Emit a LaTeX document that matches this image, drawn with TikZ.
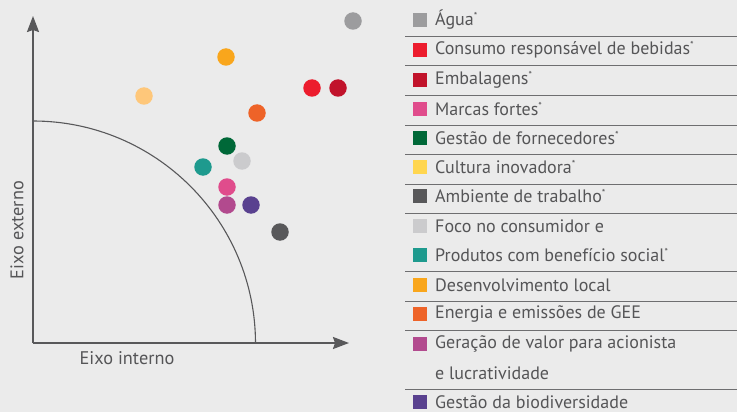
\documentclass[tikz,border=0pt]{standalone}
\usepackage{fontspec}
\setmainfont{PT Sans}
\usetikzlibrary{arrows.meta}
\definecolor{bg}{HTML}{EBEBEB}
\definecolor{ink}{HTML}{555557}
\definecolor{axiscol}{HTML}{58585A}
\definecolor{cagua}{HTML}{9C9C9E}
\definecolor{cconsumo}{HTML}{EC1C2D}
\definecolor{cemb}{HTML}{C1132B}
\definecolor{cmarcas}{HTML}{E04C8C}
\definecolor{cforn}{HTML}{006838}
\definecolor{ccultura}{HTML}{FFD64F}
\definecolor{cculturadot}{HTML}{FEC77A}
\definecolor{cambiente}{HTML}{58585A}
\definecolor{cfoco}{HTML}{CBCBCD}
\definecolor{cprod}{HTML}{1E9A8E}
\definecolor{cdesenv}{HTML}{F9A61C}
\definecolor{cenergia}{HTML}{EE6328}
\definecolor{cgeracao}{HTML}{B24A8E}
\definecolor{cbio}{HTML}{59418F}
\tikzset{
  axis/.style={draw=axiscol, line width=1.8pt, -{Stealth[length=16pt,width=12pt,inset=2pt]}},
  bound/.style={draw=axiscol, line width=1.1pt},
  dot/.style={circle, inner sep=0pt, minimum size=17.5pt},
  sq/.style={inner sep=0pt, minimum size=14pt},
  entry/.style={anchor=west, inner sep=0pt, text=ink, font=\fontsize{18}{21}\selectfont},
  axlabel/.style={inner sep=0pt, text=ink, font=\fontsize{18.3}{21}\selectfont},
  sep/.style={draw=ink!85, line width=1pt}
}
\newcommand{\mainmark}{\textsuperscript{\fontsize{10}{10}\selectfont *}}
\begin{document}
\begin{tikzpicture}[x=1pt,y=-1pt]
\fill[bg] (0,0) rectangle (737,412);
\useasboundingbox (0,0) rectangle (737,412);
\coordinate (o) at (33,343);
\coordinate (ytip) at (33,16);
\coordinate (xtip) at (349,343);
\coordinate (arctop) at (33,121);
\draw[axis] (o) -- (ytip);
\draw[axis] (o) -- (xtip);
\draw[bound] (arctop) arc[start angle=90, end angle=0, radius=222.5pt];
\node[axlabel, rotate=90] (ext) at (17,230) {Eixo externo};
\node[axlabel] (int) at (127,358) {Eixo interno};

\node[dot, fill=cagua] (agua) at (353,21) {};
\node[dot, fill=cdesenv] (desenv) at (226,57) {};
\node[dot, fill=cculturadot] (cultura) at (144,96) {};
\node[dot, fill=cconsumo] (consumo) at (312,88) {};
\node[dot, fill=cemb] (emb) at (338,88) {};
\node[dot, fill=cenergia] (energia) at (257,113) {};
\node[dot, fill=cforn] (forn) at (227,146) {};
\node[dot, fill=cfoco] (foco) at (242,161) {};
\node[dot, fill=cprod] (prod) at (203,167) {};
\node[dot, fill=cmarcas] (marcas) at (227,187) {};
\node[dot, fill=cgeracao] (geracao) at (227,205) {};
\node[dot, fill=cbio] (bio) at (251,205) {};
\node[dot, fill=cambiente] (ambiente) at (280,232) {};

\foreach \y in {37,66,96,125,154,184,213,271,301,330,389}
  \draw[sep] (405,\y) -- (737,\y);

\node[sq, fill=cagua] (lagua) at (420,20) {};
\node[entry] (tagua) at (435,20) {Água\mainmark};
\node[sq, fill=cconsumo] (lconsumo) at (420,50) {};
\node[entry] (tconsumo) at (435,50) {Consumo responsável de bebidas\mainmark};
\node[sq, fill=cemb] (lemb) at (420,80) {};
\node[entry] (temb) at (435,80) {Embalagens\mainmark};
\node[sq, fill=cmarcas] (lmarcas) at (420,109) {};
\node[entry] (tmarcas) at (435,109) {Marcas fortes\mainmark};
\node[sq, fill=cforn] (lforn) at (420,138) {};
\node[entry] (tforn) at (435,138) {Gestão de fornecedores\mainmark};
\node[sq, fill=ccultura] (lcultura) at (420,167) {};
\node[entry] (tcultura) at (435,167) {Cultura inovadora\mainmark};
\node[sq, fill=cambiente] (lambiente) at (420,196) {};
\node[entry] (tambiente) at (435,196) {Ambiente de trabalho\mainmark};
\node[sq, fill=cfoco] (lfoco) at (420,226) {};
\node[entry] (tfoco) at (435,226) {Foco no consumidor e};
\node[sq, fill=cprod] (lprod) at (420,255) {};
\node[entry] (tprod) at (435,255) {Produtos com benefício social\mainmark};
\node[sq, fill=cdesenv] (ldesenv) at (420,285) {};
\node[entry] (tdesenv) at (435,285) {Desenvolvimento local};
\node[sq, fill=cenergia] (lenergia) at (420,314) {};
\node[entry] (tenergia) at (435,314) {Energia e emissões de GEE};
\node[sq, fill=cgeracao] (lgeracao) at (420,344) {};
\node[entry] (tgeracao) at (435,344) {Geração de valor para acionista};
\node[entry] (tlucro) at (435,373) {e lucratividade};
\node[sq, fill=cbio] (lbio) at (420,402) {};
\node[entry] (tbio) at (435,402) {Gestão da biodiversidade};
\end{tikzpicture}
\end{document}
